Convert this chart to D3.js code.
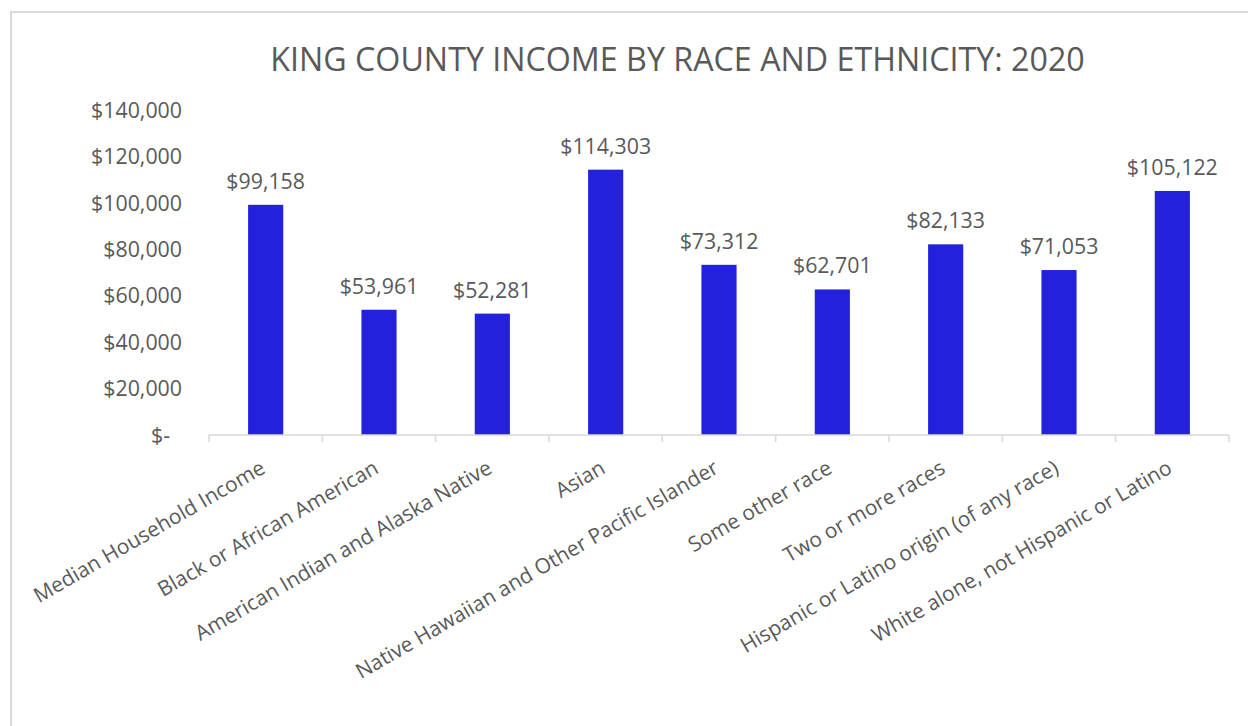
<!DOCTYPE html>
<html>
<head>
<meta charset="utf-8">
<script src="https://cdn.jsdelivr.net/npm/d3@7"></script>
<style>
  html, body { margin: 0; padding: 0; background: #fff; }
  svg { display: block; }
  text { font-family: "Open Sans", "Liberation Sans", sans-serif; fill: #595959; }
</style>
</head>
<body>
<svg id="chart" width="1248" height="726"></svg>
<script>
const categories = [
  "Median Household Income",
  "Black or African American",
  "American Indian and Alaska Native",
  "Asian",
  "Native Hawaiian and Other Pacific Islander",
  "Some other race",
  "Two or more races",
  "Hispanic or Latino origin (of any race)",
  "White alone, not Hispanic or Latino"
];
const values = [99158, 53961, 52281, 114303, 73312, 62701, 82133, 71053, 105122];
const yTicks = [0, 20000, 40000, 60000, 80000, 100000, 120000, 140000];
const chartTitle = "KING COUNTY INCOME BY RACE AND ETHNICITY: 2020";

const svg = d3.select("#chart");

// fit a font size so that a reference string reaches a target width
function fitSize(str, target, base) {
  const t = svg.append("text").attr("font-size", base).text(str);
  const w = t.node().getComputedTextLength();
  t.remove();
  return base * target / w;
}

// outer border
svg.append("rect")
  .attr("x", 11).attr("y", 12)
  .attr("width", 1400).attr("height", 900)
  .attr("fill", "none").attr("stroke", "#d9d9d9").attr("stroke-width", 2);

const plotLeft = 209, plotRight = 1229, plotBottom = 435, plotTop = 110;

const x = d3.scaleBand().domain(categories).range([plotLeft, plotRight])
  .paddingInner(0.69).paddingOuter(0.345);
const y = d3.scaleLinear().domain([0, 140000]).range([plotBottom, plotTop]);

// title
const titleSize = fitSize(chartTitle, 815, 30);
svg.append("text")
  .attr("x", 677.5).attr("y", 71)
  .attr("text-anchor", "middle")
  .attr("font-size", titleSize)
  .text(chartTitle);

// y axis labels
const tickSize = fitSize("$140,000", 91, 20);
const fmt = d3.format(",");
svg.append("g").selectAll("text").data(yTicks).join("text")
  .attr("x", d => d === 0 ? 170 : 182)
  .attr("y", d => y(d))
  .attr("dy", "0.36em")
  .attr("text-anchor", "end")
  .attr("font-size", tickSize)
  .text(d => d === 0 ? "$-" : "$" + fmt(d));

// bars
svg.append("g").selectAll("rect").data(values).join("rect")
  .attr("x", (d, i) => x(categories[i]))
  .attr("width", x.bandwidth())
  .attr("y", d => y(d))
  .attr("height", d => y(0) - y(d))
  .attr("fill", "#2321DB");

// data labels
const dataSize = fitSize("$114,303", 91, 20);
svg.append("g").selectAll("text").data(values).join("text")
  .attr("x", (d, i) => x(categories[i]) + x.bandwidth() / 2)
  .attr("y", d => y(d) - 16)
  .attr("text-anchor", "middle")
  .attr("font-size", dataSize)
  .text(d => "$" + fmt(d));

// x axis line and ticks
const step = x.step();
const g = svg.append("g").attr("stroke", "#d9d9d9").attr("stroke-width", 1.5);
g.append("line").attr("x1", plotLeft).attr("x2", plotRight).attr("y1", plotBottom).attr("y2", plotBottom);
const bounds = d3.range(categories.length + 1).map(i => plotLeft + i * step);
g.selectAll("line.tick").data(bounds).join("line").attr("class", "tick")
  .attr("x1", d => d).attr("x2", d => d)
  .attr("y1", plotBottom).attr("y2", plotBottom + 7);

// x labels
const labSize = fitSize("White alone, not Hispanic or Latino", 342, 20);
svg.append("g").selectAll("text").data(categories).join("text")
  .attr("transform", d => `translate(${x(d) + x.bandwidth() / 2 + 1},472) rotate(-30)`)
  .attr("text-anchor", "end")
  .attr("font-size", labSize)
  .text(d => d);
</script>
</body>
</html>
